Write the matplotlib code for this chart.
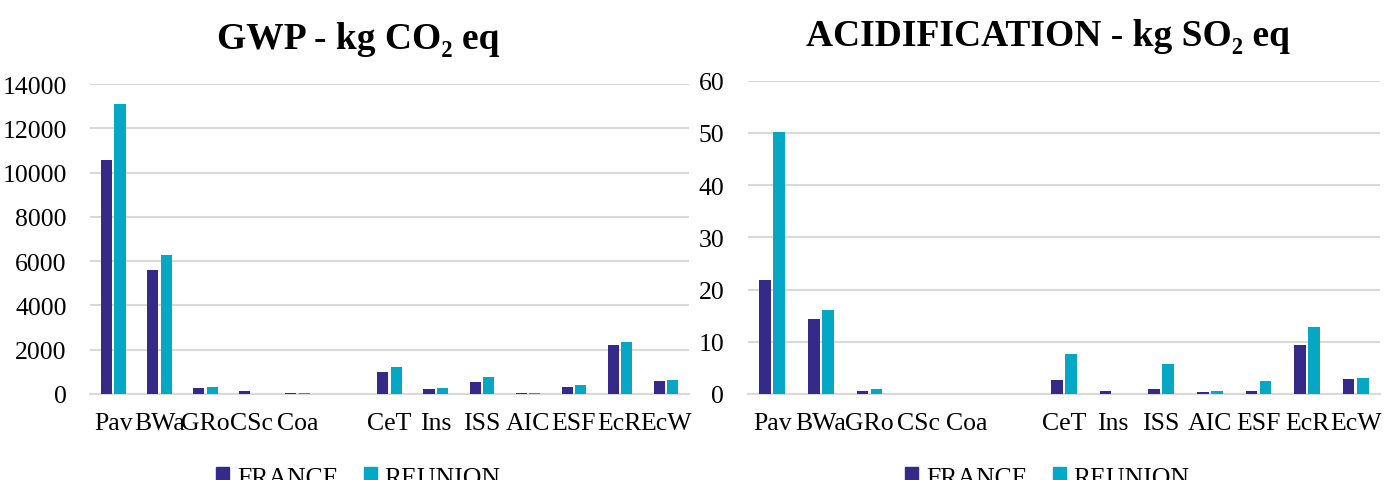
import numpy as np
import matplotlib.pyplot as plt
from matplotlib.patches import Patch

# categories (one empty slot between Coa and CeT, as in the original sheet)
cats = ["Pav", "BWa", "GRo", "CSc", "Coa", "", "CeT", "Ins", "ISS", "AIC", "ESF", "EcR", "EcW"]

gwp_france = [10550, 5600, 280, 150, 20, 0, 1000, 220, 520, 60, 320, 2200, 570]
gwp_reunion = [13100, 6300, 290, 10, 20, 0, 1200, 250, 750, 60, 400, 2330, 610]

acid_france = [21.8, 14.4, 0.6, 0.0, 0.0, 0.0, 2.7, 0.6, 1.0, 0.3, 0.5, 9.3, 2.8]
acid_reunion = [50.1, 16.0, 1.0, 0.05, 0.0, 0.0, 7.6, 0.05, 5.8, 0.5, 2.4, 12.9, 3.1]

c_fr = "#352A87"
c_re = "#05A8C4"

plt.rcParams['font.family'] = ['Liberation Serif', 'DejaVu Serif']

fig = plt.figure(figsize=(13.89, 4.81), dpi=100)
ax1 = fig.add_axes([0.065, 0.179, 0.431, 0.644])
ax2 = fig.add_axes([0.5385, 0.179, 0.455, 0.651])

def draw(ax, fr, re, title, ymax, step, xc):
    x = np.arange(len(cats))
    w = 0.24
    ax.bar(x - 0.145, fr, w, color=c_fr, zorder=3)
    ax.bar(x + 0.145, re, w, color=c_re, zorder=3)
    ax.set_xlim(-0.5, len(cats) - 0.5)
    ax.set_ylim(0, ymax)
    ax.set_yticks(np.arange(0, ymax + step, step))
    ax.set_xticks(x)
    ax.set_xticklabels(cats)
    ax.yaxis.grid(True, color="#D9D9D9", linewidth=1.5, zorder=0)
    for s in ["top", "right", "left"]:
        ax.spines[s].set_visible(False)
    ax.spines["bottom"].set_color("#D9D9D9")
    ax.spines["bottom"].set_linewidth(1.5)
    ax.tick_params(axis="both", length=0, labelsize=18.5)
    ax.tick_params(axis="x", pad=13)
    ax.tick_params(axis="y", pad=17)
    ax.set_title(title, fontsize=27, fontweight="bold", pad=26, x=xc)
    handles = [Patch(color=c_fr, label="FRANCE"), Patch(color=c_re, label="REUNION")]
    ax.legend(handles=handles, loc="upper center", bbox_to_anchor=(xc, -0.16),
              ncol=2, frameon=False, fontsize=18.5, handlelength=0.5,
              handleheight=0.6, handletextpad=0.3, columnspacing=1.0)

draw(ax1, gwp_france, gwp_reunion, "GWP - kg CO₂ eq", 14000, 2000, 0.448)
draw(ax2, acid_france, acid_reunion, "ACIDIFICATION - kg SO₂ eq", 60, 10, 0.474)

plt.savefig("out.png")
